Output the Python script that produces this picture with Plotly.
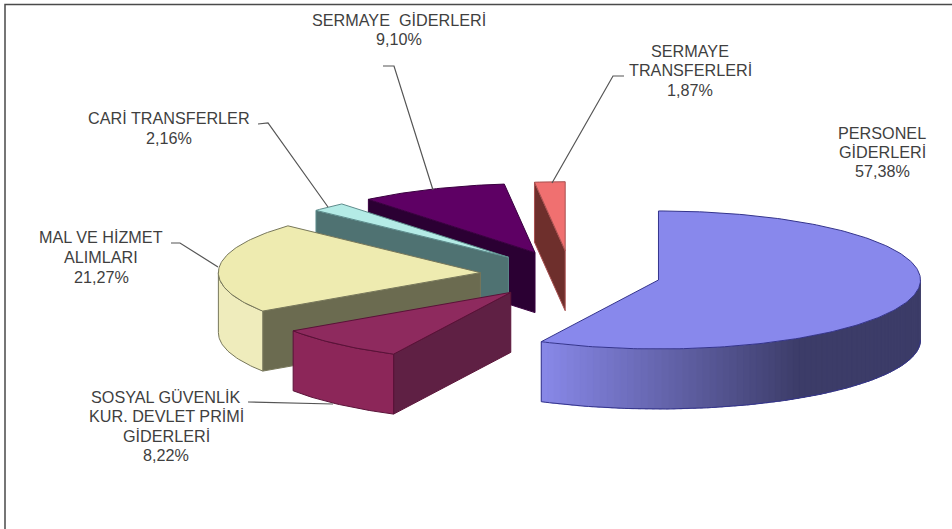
import math
import plotly.graph_objects as go

# ---- data (order = clockwise from 12 o'clock) ----
categories = ["PERSONEL GİDERLERİ", "SOSYAL GÜVENLİK KUR. DEVLET PRİMİ GİDERLERİ",
              "MAL VE HİZMET ALIMLARI", "CARİ TRANSFERLER",
              "SERMAYE GİDERLERİ", "SERMAYE TRANSFERLERİ"]
shares = [57.38, 8.22, 21.27, 2.16, 9.10, 1.87]
value_labels = ["57,38%", "8,22%", "21,27%", "2,16%", "9,10%", "1,87%"]

# ---- styling ----
top_colors = ["#8888EC", "#8E2A5E", "#EEEBB0", "#B4EBE6", "#5E0064", "#F07070"]
wall_colors = [None, "#8C2659", "#EFECBC", "#B4EBE6", "#5E0064", "#F07070"]
cut_colors = [None, "#5F2044", "#6B6B50", "#4F7272", "#2B0033", "#6E2F2C"]
edge_colors = ["#34348C", "#5A1238", "#77775A", "#5E8C8C", "#3A0040", "#A85050"]
WALL_LEFT, WALL_RIGHT = (136, 136, 232), (60, 60, 104)
GRAD_END_X = 800
TEXT = "#3F3F3F"

CX, CY = 570.5, 274.5  # pie centre in the plot frame
RX, RY = 262, 69       # projected radii
DEPTH = 60             # thickness
EXPLODE = 0.345        # every slice is pulled out by the same fraction
STEP = 1.0


def pt(ang, c, r=1.0, dz=0.0):
    t = math.radians(ang)
    return c[0] + r * RX * math.sin(t), c[1] - r * RY * math.cos(t) + dz


def arc(a0, a1, c, dz=0.0):
    n = max(2, int(abs(a1 - a0) / STEP))
    return [pt(a0 + (a1 - a0) * i / n, c, dz=dz) for i in range(n + 1)]


def poly(fig, pts, fill, line=None, width=1.0):
    xs = [p[0] for p in pts] + [pts[0][0]]
    ys = [p[1] for p in pts] + [pts[0][1]]
    fig.add_trace(go.Scatter(x=xs, y=ys, mode="lines", fill="toself", fillcolor=fill,
                             line=dict(color=line or fill, width=width),
                             hoverinfo="skip", showlegend=False))


total = sum(shares)
slices = []
start = 0.0
for s in shares:
    end = start + s / total * 360
    mid = (start + end) / 2
    slices.append((start, end, pt(mid, (CX, CY), EXPLODE)))
    start = end

fig = go.Figure()

# Painter's order: far / right slices first, front-left last
for i in [0, 5, 4, 3, 2, 1]:
    a0, a1, c = slices[i]
    # cut face on the leading edge (angle a0) is visible for the left-hand slices
    if i != 0:
        p0 = pt(a0, c)
        poly(fig, [p0, c, (c[0], c[1] + DEPTH), (p0[0], p0[1] + DEPTH)],
             cut_colors[i], edge_colors[i])
    # outer wall: only the part of the rim facing the viewer (90..270 deg)
    w0, w1 = max(a0, 90), min(a1, 270)
    if w1 > w0:
        if i == 0:
            n = int((w1 - w0) / 1.5)
            for k in range(n):
                b0 = w0 + (w1 - w0) * k / n
                b1 = w0 + (w1 - w0) * (k + 1.4) / n
                b1 = min(b1, w1)
                x_mid = pt((b0 + b1) / 2, c)[0]
                f = min(1.0, max(0.0, (x_mid - pt(a1, c)[0]) / (GRAD_END_X - pt(a1, c)[0])))
                col = tuple(round(WALL_LEFT[j] + (WALL_RIGHT[j] - WALL_LEFT[j]) * f) for j in range(3))
                hex_col = "rgb(%d,%d,%d)" % col
                poly(fig, arc(b0, b1, c) + arc(b1, b0, c, DEPTH), hex_col, hex_col, 0.5)
            low = arc(w0, w1, c, DEPTH)
            fig.add_trace(go.Scatter(x=[p[0] for p in low] + [pt(w1, c)[0]],
                                     y=[p[1] for p in low] + [pt(w1, c)[1]],
                                     mode="lines", line=dict(color=edge_colors[0], width=1),
                                     hoverinfo="skip", showlegend=False))
        else:
            poly(fig, arc(w0, w1, c) + arc(w1, w0, c, DEPTH), wall_colors[i], edge_colors[i])
    # top face
    poly(fig, [c] + arc(a0, a1, c), top_colors[i], edge_colors[i])

# ---- labels: (lines, x, y of each line) ----
label_lines = [
    (["PERSONEL", "GİDERLERİ", value_labels[0]], 882, [133, 152, 171]),
    (["SOSYAL GÜVENLİK", "KUR. DEVLET PRİMİ", "GİDERLERİ", value_labels[1]], 166, [397, 416, 436, 455]),
    (["MAL VE HİZMET", "ALIMLARI", value_labels[2]], 101, [237, 257, 277]),
    (["CARİ TRANSFERLER", value_labels[3]], 169, [118, 138]),
    (["SERMAYE  GİDERLERİ", value_labels[4]], 399, [20, 39]),
    (["SERMAYE", "TRANSFERLERİ", value_labels[5]], 690, [51, 70, 90]),
]
annotations = []
for lines, x, ys in label_lines:
    for t, y in zip(lines, ys):
        annotations.append(dict(x=x, y=y, text=t, showarrow=False, xanchor="center", yanchor="middle",
                                font=dict(family="Liberation Sans", size=16.2, color=TEXT)))

# ---- leader lines ----
leaders = [
    [(383, 66), (394, 66), (433, 190)],
    [(258, 124), (268, 123), (328, 207)],
    [(171, 243), (180, 243), (218, 267)],
    [(248, 402), (333, 404)],
    [(552, 183), (613, 76), (624, 76)],
]
for seg in leaders:
    fig.add_trace(go.Scatter(x=[p[0] for p in seg], y=[p[1] for p in seg], mode="lines",
                             line=dict(color="#555555", width=1.2),
                             hoverinfo="skip", showlegend=False))

# frame: top and left only
fig.add_trace(go.Scatter(x=[952, 5, 5], y=[4.5, 4.5, 529], mode="lines",
                         line=dict(color="#4A4A4A", width=1.5),
                         hoverinfo="skip", showlegend=False))

fig.update_layout(
    width=952, height=529, margin=dict(l=0, r=0, t=0, b=0),
    paper_bgcolor="white", plot_bgcolor="white", showlegend=False,
    xaxis=dict(range=[0, 952], visible=False, fixedrange=True),
    yaxis=dict(range=[529, 0], visible=False, fixedrange=True),
    annotations=annotations,
)
fig.write_html("out.html", config=dict(displayModeBar=False),
               post_script="document.body.style.margin='0';document.body.style.overflow='hidden';")
